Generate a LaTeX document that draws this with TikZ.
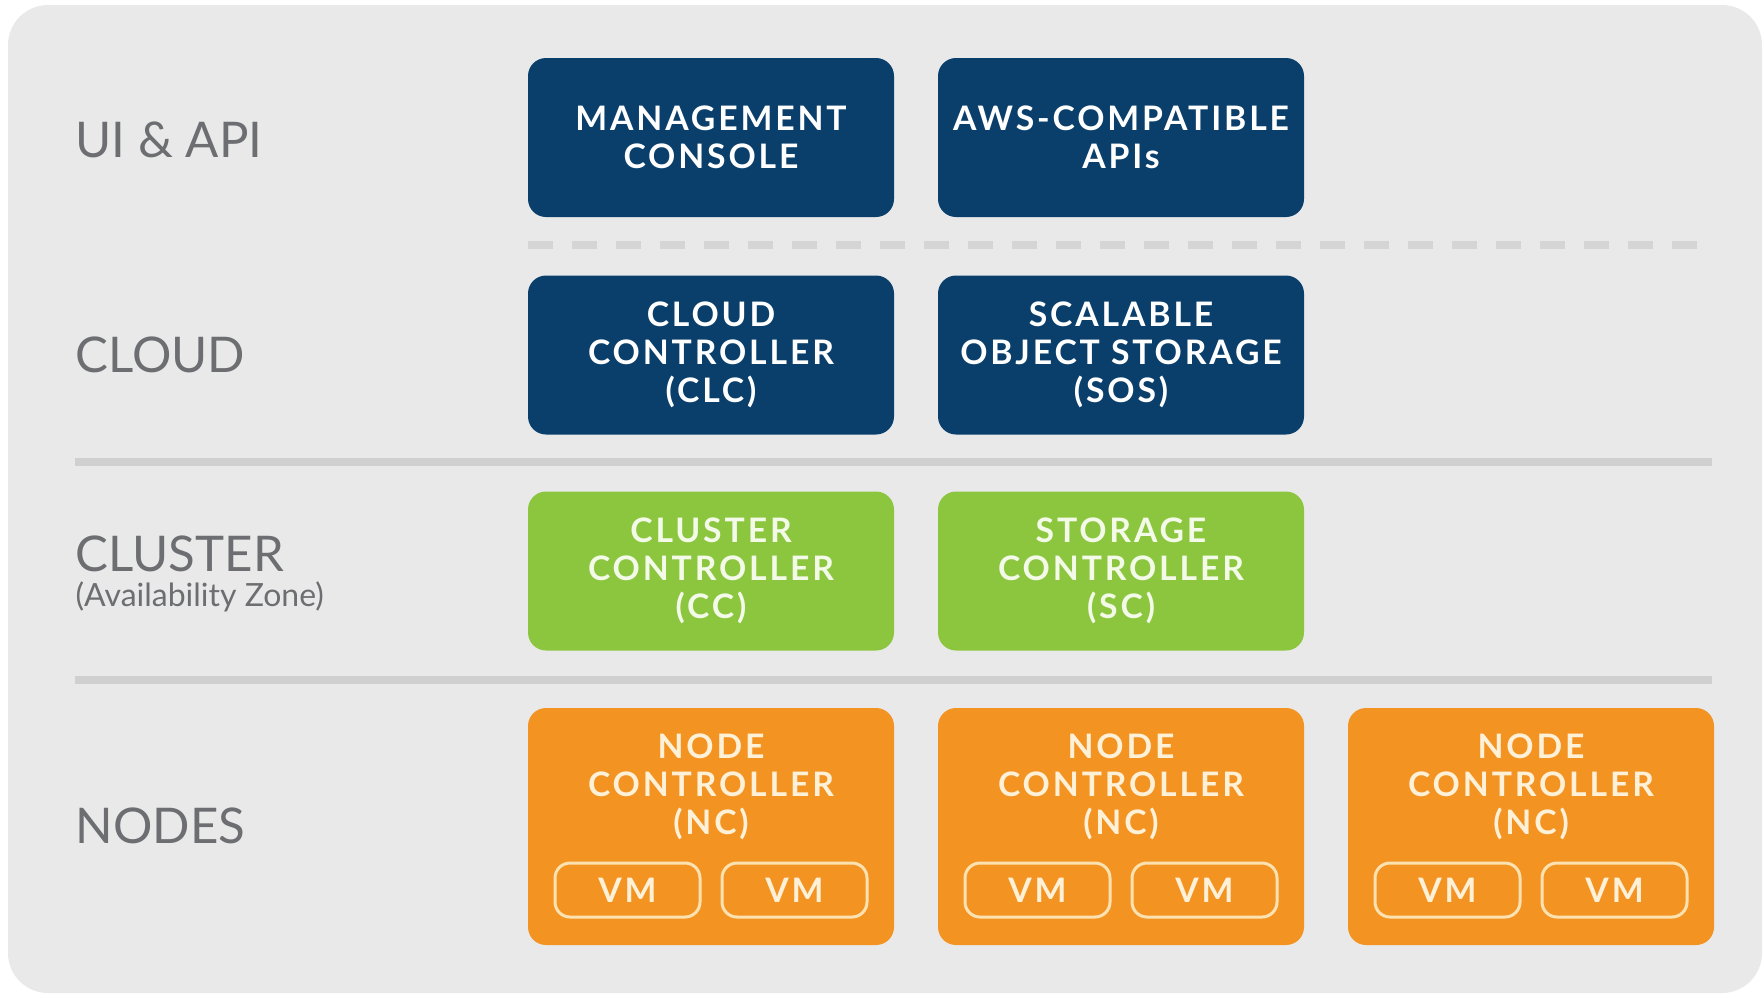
\documentclass[tikz,border=0pt]{standalone}
\usepackage{fontspec}
\setmainfont{Lato}
\newfontfamily\boxfont{Lato}[LetterSpace=8.5]
\usepackage{xcolor}
\usetikzlibrary{calc,positioning}

\definecolor{bgGray}{HTML}{E9E9E9}
\definecolor{tierGray}{HTML}{6D6E71}
\definecolor{sepGray}{HTML}{D0D0D0}
\definecolor{dashGray}{HTML}{D5D5D5}
\definecolor{euBlue}{HTML}{0A3F6B}
\definecolor{euGreen}{HTML}{8CC63F}
\definecolor{euOrange}{HTML}{F39322}
\definecolor{greenText}{HTML}{F3FAE8}
\definecolor{orangeText}{HTML}{FFF1D8}
\definecolor{vmLine}{HTML}{FCE2B0}

\tikzset{
	tier/.style={anchor=west, inner sep=0pt, text=tierGray, font=\fontsize{14}{16}\selectfont},
	zone/.style={anchor=west, inner sep=0pt, text=tierGray, font=\fontsize{9.1}{10}\selectfont},
	comp/.style={rounded corners=0.18cm, minimum width=3.66cm, minimum height=1.59cm, inner sep=0pt, align=center, font=\boxfont\bfseries\fontsize{9.6}{10.8}\selectfont},
	cloudbox/.style={comp, fill=euBlue, text=white},
	clusterbox/.style={comp, fill=euGreen, text=greenText},
	ncbox/.style={comp, fill=euOrange, minimum height=2.37cm},
	nctext/.style={inner sep=0pt, align=center, text=orangeText, font=\boxfont\bfseries\fontsize{9.6}{10.8}\selectfont},
	vmbox/.style={draw=vmLine, line width=0.03cm, rounded corners=0.15cm, minimum width=1.45cm, minimum height=0.54cm, inner sep=0pt, text=orangeText, font=\boxfont\bfseries\fontsize{9.6}{10}\selectfont},
	sepline/.style={sepGray, line width=0.08cm},
	sepdash/.style={dashGray, line width=0.08cm, dash pattern=on 0.25cm off 0.19cm},
}

\begin{document}
\begin{tikzpicture}
	\useasboundingbox (0,0) rectangle (17.64,-9.98);
	\fill[bgGray, rounded corners=0.4cm] (0.08,-0.05) rectangle (17.62,-9.93);

	\node[tier] at (0.75,-1.40) (ui) {UI \& API};
	\node[tier] at (0.75,-3.55) (cloud) {CLOUD};
	\node[tier] at (0.75,-5.54) (cluster) {CLUSTER};
	\node[zone] at (0.75,-5.97) (az) {(Availability Zone)};
	\node[tier] at (0.75,-8.26) (nodes) {NODES};

	\node[cloudbox] at (7.11,-1.375) (mgmt) {MANAGEMENT\\CONSOLE};
	\node[cloudbox] at (11.21,-1.375) (aws) {AWS-COMPATIBLE\\APIs};
	\draw[sepdash] (5.28,-2.45) -- (17.04,-2.45);

	\node[cloudbox] at (7.11,-3.55) (clc) {CLOUD\\CONTROLLER\\(CLC)};
	\node[cloudbox] at (11.21,-3.55) (sos) {SCALABLE\\OBJECT STORAGE\\(SOS)};
	\draw[sepline] (0.75,-4.62) -- (17.12,-4.62);

	\node[clusterbox] at (7.11,-5.71) (cc) {CLUSTER\\CONTROLLER\\(CC)};
	\node[clusterbox] at (11.21,-5.71) (sc) {STORAGE\\CONTROLLER\\(SC)};
	\draw[sepline] (0.75,-6.80) -- (17.12,-6.80);

	\foreach \i/\x in {1/7.11,2/11.21,3/15.31} {
		\node[ncbox] at (\x,-8.265) (nc\i) {};
		\node[nctext, below=0.26cm of nc\i.north] (nct\i) {NODE\\CONTROLLER\\(NC)};
		\node[vmbox] at ($(nc\i.center)+(-0.835,-0.635)$) (vma\i) {VM};
		\node[vmbox] at ($(nc\i.center)+(0.835,-0.635)$) (vmb\i) {VM};
	}
\end{tikzpicture}
\end{document}
